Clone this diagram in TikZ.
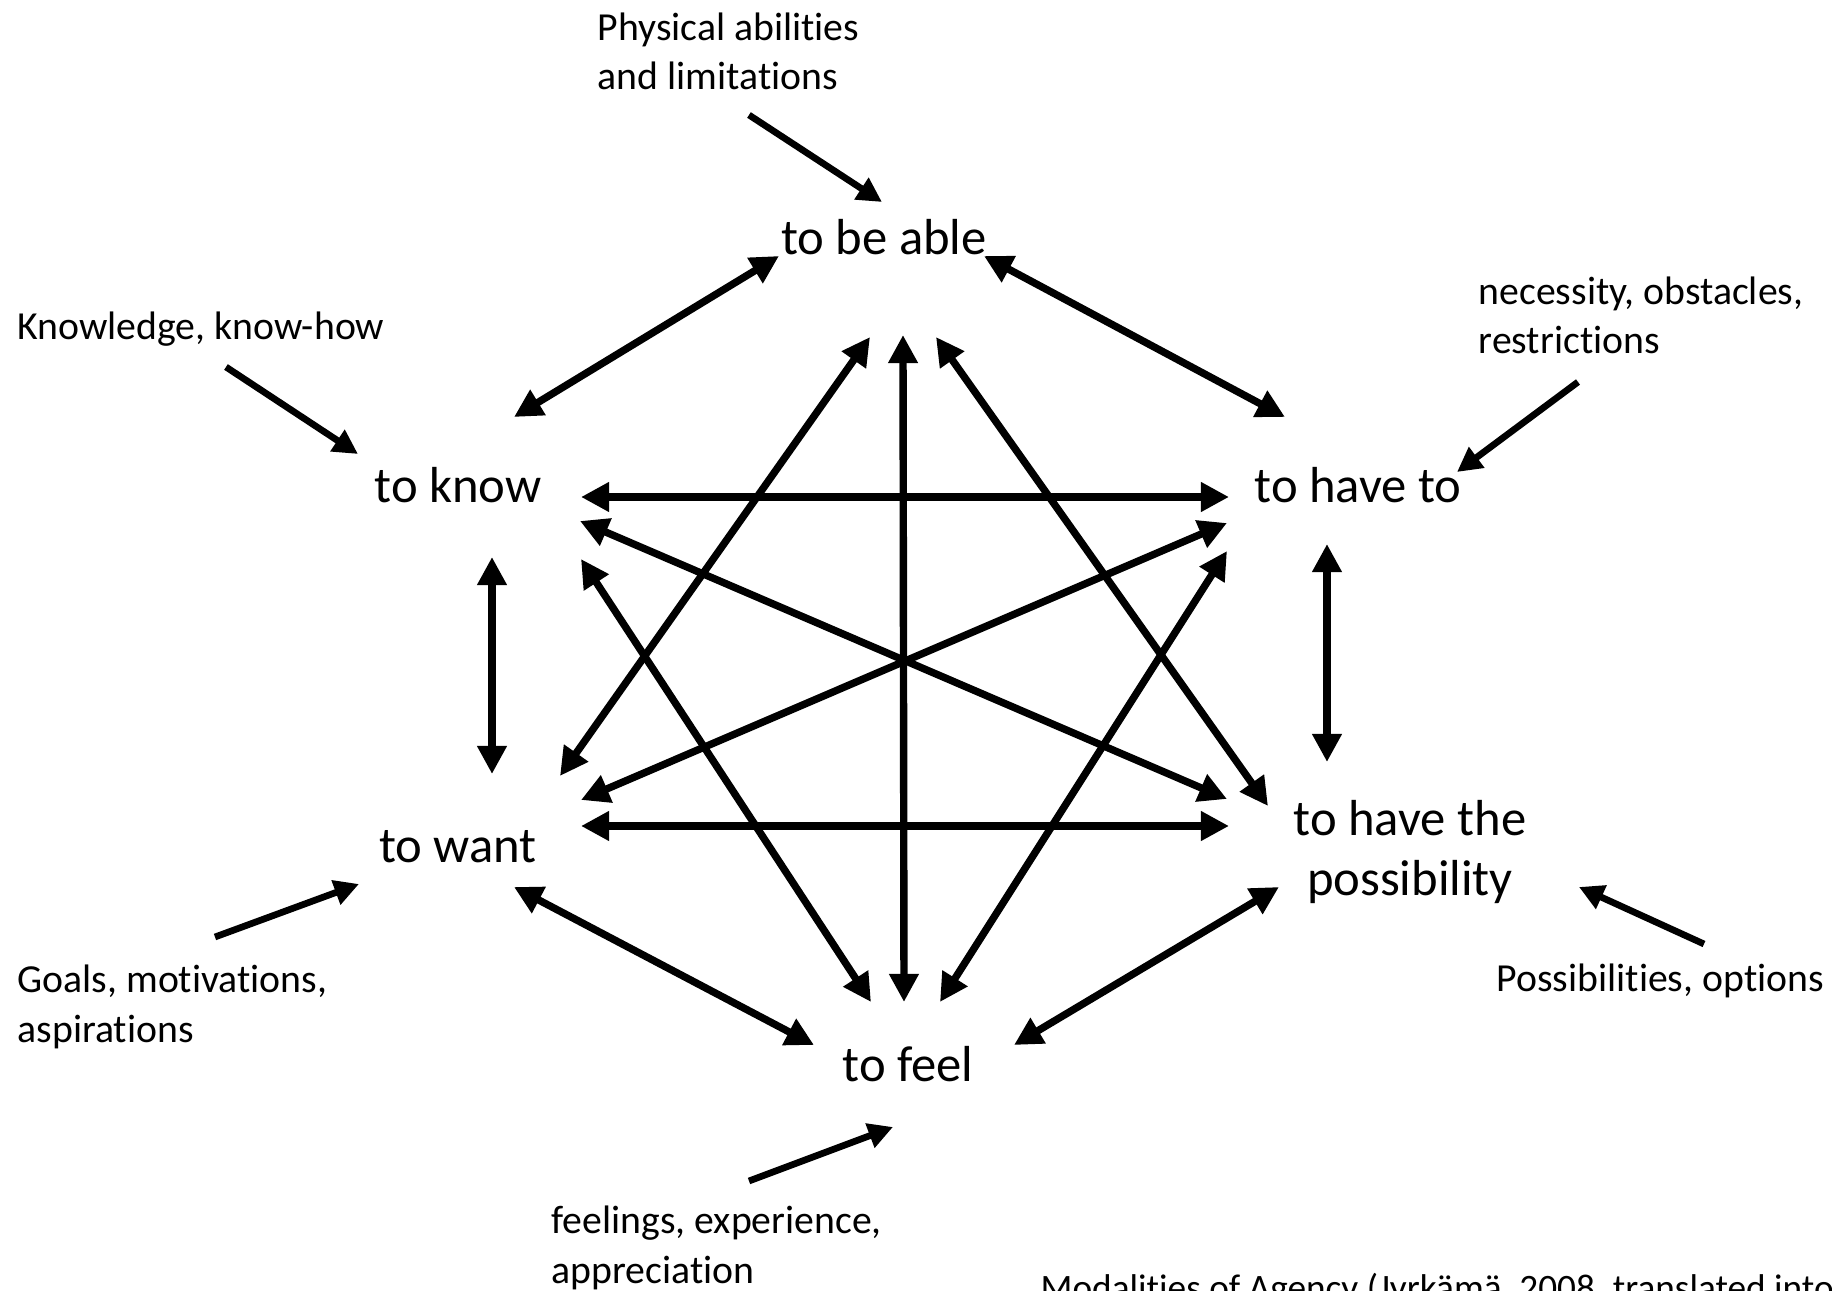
\documentclass[tikz,border=0pt]{standalone}
\usepackage{fontspec}
\setmainfont{Carlito}[RawFeature = {-liga;-clig;-calt;-dlig}]
\usetikzlibrary{arrows.meta,calc}
\begin{document}
\begin{tikzpicture}[x = 0.01cm, y = -0.01cm,
        modal/.style = {inner sep = 0pt, anchor = base, align = center, font = \fontsize{14.4}{17}\selectfont},
        cue/.style = {inner sep = 0pt, anchor = base west, align = left, font = \fontsize{11.3}{14.2}\selectfont},
        link/.style = {<->, line width = 2.1pt, >={Triangle[length = 8pt, width = 8pt]}},
        feed/.style = {->, line width = 1.9pt, >={Triangle[length = 7pt, width = 7pt]}}]
    \useasboundingbox (0, 0) rectangle (1832, 1291);
    \node[modal] (able) at (884, 255) {to be able};
    \node[modal] (know) at (458, 503) {to know};
    \node[modal] (haveto) at (1358, 503) {to have to};
    \node[modal] (want) at (458, 862) {to want};
    \node[modal] (poss) at (1410, 895) {to have the\\possibility};
    \node[modal] (feel) at (908, 1081) {to feel};
    \node[cue] (physical) at (597, 90) {Physical abilities\\and limitations};
    \node[cue] (knowledge) at (17, 340) {Knowledge, know-how};
    \node[cue] (necessity) at (1478, 354) {necessity, obstacles,\\restrictions};
    \node[cue] (goals) at (17, 1042) {Goals, motivations,\\aspirations};
    \node[cue] (options) at (1496, 991) {Possibilities, options};
    \node[cue] (feelings) at (551, 1283) {feelings, experience,\\appreciation};
    \node[cue, font = \fontsize{10.6}{13}\selectfont] (source) at (1040, 1300) {Modalities of Agency (Jyrkämä, 2008, translated into English)};
    \draw[feed] ($(physical.base west)+(152, 25)$) -- ($(able.base)+(-2, -53)$);
    \draw[feed] ($(knowledge.base west)+(209, 27)$) -- ($(know.base)+(-100, -49)$);
    \draw[feed] ($(necessity.base west)+(100, 28)$) -- ($(haveto.base)+(99, -31)$);
    \draw[feed] ($(goals.base west)+(198, -105)$) -- ($(want.base)+(-99, 22)$);
    \draw[feed] ($(options.base west)+(208, -47)$) -- ($(poss.base)+(169, -8)$);
    \draw[feed] ($(feelings.base west)+(198, -102)$) -- ($(feel.base)+(-15, 46)$);
    \draw[link] ($(able.base)+(-105, 1)$) -- ($(know.base)+(56, -86)$);
    \draw[link] ($(able.base)+(100, 1)$) -- ($(haveto.base)+(-73, -86)$);
    \draw[link] ($(able.base)+(19, 80)$) -- ($(feel.base)+(-4, -79)$);
    \draw[link] ($(able.base)+(-14, 82)$) -- ($(want.base)+(102, -86)$);
    \draw[link] ($(able.base)+(52, 82)$) -- ($(poss.base)+(-142, -89)$);
    \draw[link] ($(know.base)+(123, -6)$) -- ($(haveto.base)+(-129, -6)$);
    \draw[link] ($(know.base)+(34, 54)$) -- ($(want.base)+(34, -88)$);
    \draw[link] ($(know.base)+(122, 18)$) -- ($(poss.base)+(-183, -96)$);
    \draw[link] ($(know.base)+(123, 56)$) -- ($(feel.base)+(-37, -79)$);
    \draw[link] ($(haveto.base)+(-31, 41)$) -- ($(poss.base)+(-83, -133)$);
    \draw[link] ($(haveto.base)+(-131, 20)$) -- ($(want.base)+(123, -62)$);
    \draw[link] ($(haveto.base)+(-131, 48)$) -- ($(feel.base)+(32, -79)$);
    \draw[link] ($(want.base)+(123, -36)$) -- ($(poss.base)+(-181, -69)$);
    \draw[link] ($(want.base)+(56, 25)$) -- ($(feel.base)+(-94, -36)$);
    \draw[link] ($(poss.base)+(-131, -8)$) -- ($(feel.base)+(106, -36)$);
\end{tikzpicture}
\end{document}
